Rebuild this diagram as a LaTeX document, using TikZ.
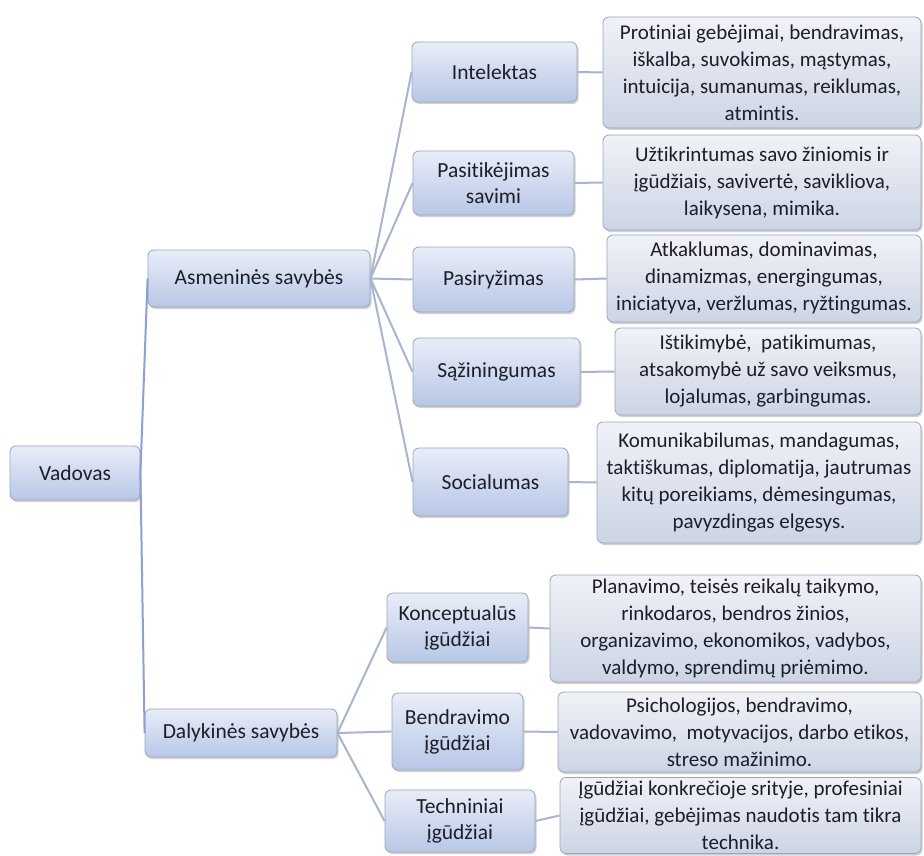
\documentclass[tikz,border=0pt]{standalone}
\usepackage{fontspec}
\setmainfont{Carlito}[Ligatures=NoCommon]
\usetikzlibrary{shadows}
\definecolor{txt}{HTML}{1E1E2A}
\definecolor{lbltop}{HTML}{E9EDF8}
\definecolor{lblbot}{HTML}{B7C7E6}
\definecolor{dsctop}{HTML}{F0F2F7}
\definecolor{dscbot}{HTML}{CCD4E4}
\definecolor{boxline}{HTML}{9AA5BC}
\definecolor{linkA}{HTML}{8E9FD4}
\definecolor{linkB}{HTML}{A7B5CE}
\tikzset{
  basebox/.style={draw=boxline, line width=0.8pt, rounded corners=6pt, align=center,
    text=txt, inner sep=2pt,
    drop shadow={shadow xshift=1.5pt, shadow yshift=-2pt, opacity=0.3, fill=black!60}},
  lbl/.style={basebox, top color=lbltop, bottom color=lblbot,
    font=\fontsize{21.5}{26}\selectfont},
  dsc/.style={basebox, top color=dsctop, bottom color=dscbot,
    font=\fontsize{21}{27}\selectfont},
  sz/.style n args={2}{minimum width=#1pt, minimum height=#2pt},
  mainlink/.style={draw=linkA, line width=2pt},
  sublink/.style={draw=linkB, line width=2pt}
}
\begin{document}
\begin{tikzpicture}[x=1pt,y=-1pt]
\useasboundingbox (0,0) rectangle (924,856);
\fill[white] (0,0) rectangle (924,856);

% level 0 and 1
\node[lbl, sz={130}{54}] (vad) at (75,473) {Vadovas};
\node[lbl, sz={222}{57}] (asm) at (259,278.5) {Asmeninės savybės};
\node[lbl, sz={192}{48}] (dal) at (241,733) {Dalykinės savybės};

% level 2
\node[lbl, sz={165}{60}] (int) at (494.5,72) {Intelektas};
\node[lbl, sz={161}{64}] (pas) at (493.5,183) {Pasitikėjimas\\savimi};
\node[lbl, sz={161}{65}] (pry) at (493.5,279.5) {Pasiryžimas};
\node[lbl, sz={167}{68}] (saz) at (496.5,372) {Sąžiningumas};
\node[lbl, sz={155}{68}] (soc) at (490.5,482) {Socialumas};
\node[lbl, sz={141}{69}] (kon) at (457.5,627.5) {Konceptualūs\\įgūdžiai};
\node[lbl, sz={131}{77}] (ben) at (457.5,731.5) {Bendravimo\\įgūdžiai};
\node[lbl, sz={150}{62}] (tec) at (460,821) {Techniniai\\įgūdžiai};

% descriptions
\node[dsc, sz={318}{111}] (d1) at (762,72.5) {Protiniai gebėjimai, bendravimas,\\iškalba, suvokimas, mąstymas,\\intuicija, sumanumas, reiklumas,\\atmintis.};
\node[dsc, sz={318}{95}] (d2) at (762,182.5) {Užtikrintumas savo žiniomis ir\\įgūdžiais, savivertė, savikliova,\\laikysena, mimika.};
\node[dsc, sz={314}{87}] (d3) at (764,278.5) {Atkaklumas, dominavimas,\\dinamizmas, energingumas,\\iniciatyva, veržlumas, ryžtingumas.};
\node[dsc, sz={306}{87}] (d4) at (768,371.5) {Ištikimybė,~ patikimumas,\\atsakomybė už savo veiksmus,\\lojalumas, garbingumas.};
\node[dsc, sz={324}{121}] (d5) at (759,482.5) {Komunikabilumas, mandagumas,\\taktiškumas, diplomatija, jautrumas\\kitų poreikiams, dėmesingumas,\\pavyzdingas elgesys.};
\node[dsc, sz={371}{107}] (d6) at (735.5,628.5) {Planavimo, teisės reikalų taikymo,\\rinkodaros, bendros žinios,\\organizavimo, ekonomikos, vadybos,\\valdymo, sprendimų priėmimo.};
\node[dsc, sz={363}{80}] (d7) at (739.5,732) {Psichologijos, bendravimo,\\vadovavimo,~ motyvacijos, darbo etikos,\\streso mažinimo.};
\node[dsc, sz={361}{76}] (d8) at (740.5,815.5) {Įgūdžiai konkrečioje srityje, profesiniai\\įgūdžiai, gebėjimas naudotis tam tikra\\technika.};

% connectors
\draw[mainlink] (vad.east) -- (asm.west);
\draw[mainlink] (vad.east) -- (dal.west);
\foreach \c in {int,pas,pry,saz,soc} \draw[sublink] (asm.east) -- (\c.west);
\foreach \c in {kon,ben,tec} \draw[sublink] (dal.east) -- (\c.west);
\draw[sublink] (int.east) -- (d1.west);
\draw[sublink] (pas.east) -- (d2.west);
\draw[sublink] (pry.east) -- (d3.west);
\draw[sublink] (saz.east) -- (d4.west);
\draw[sublink] (soc.east) -- (d5.west);
\draw[sublink] (kon.east) -- (d6.west);
\draw[sublink] (ben.east) -- (d7.west);
\draw[sublink] (tec.east) -- (d8.west);
\end{tikzpicture}
\end{document}
